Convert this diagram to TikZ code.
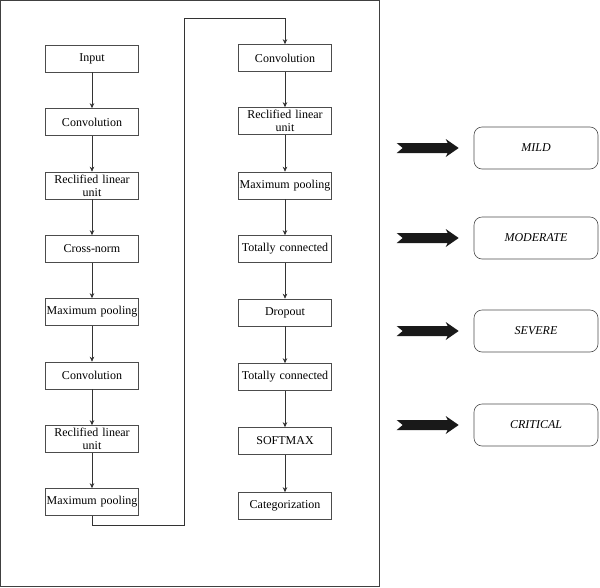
\documentclass[tikz,border=0pt]{standalone}
\usepackage{fontspec}
\setmainfont{Liberation Serif}
\usetikzlibrary{arrows.meta}
\tikzset{
  layer/.style={draw=black!70, line width=0.6pt, minimum width=93pt, minimum height=27pt,
    text width=91pt, align=center, inner sep=1pt, font=\fontsize{12}{13}\selectfont},
  grade/.style={draw=black!70, line width=0.6pt, rounded corners=8pt, minimum width=124pt,
    minimum height=42pt, font=\fontsize{12}{14}\selectfont\itshape},
  flow/.style={draw=black!80, line width=0.6pt, -{Stealth[length=5pt,width=4.5pt]}}
}
\begin{document}
\begin{tikzpicture}[x=1pt, y=-1pt]
  \useasboundingbox (0,0) rectangle (600,587);
  \draw[black!75, line width=0.8pt] (0.5,0.5) rectangle (379,586);

  \node[layer] (lin)    at (92, 58.5) {Input};
  \node[layer] (lconv1) at (92,122) {Convolution};
  \node[layer] (lrelu1) at (92,185.5) {Reclified linear\\unit};
  \node[layer] (lnorm)  at (92,249) {Cross-norm};
  \node[layer] (lpool1) at (92,312) {Maximum pooling};
  \node[layer] (lconv2) at (92,375.5) {Convolution};
  \node[layer] (lrelu2) at (92,439) {Reclified linear\\unit};
  \node[layer] (lpool2) at (92,502) {Maximum pooling};

  \node[layer] (rconv)  at (285, 58) {Convolution};
  \node[layer] (rrelu)  at (285,121) {Reclified linear\\unit};
  \node[layer] (rpool)  at (285,185.5) {Maximum pooling};
  \node[layer] (rfc1)   at (285,249) {Totally connected};
  \node[layer] (rdrop)  at (285,312.5) {Dropout};
  \node[layer] (rfc2)   at (285,377) {Totally connected};
  \node[layer] (rsoft)  at (285,441) {SOFTMAX};
  \node[layer] (rcat)   at (285,506) {Categorization};

  \draw[flow] (lin) -- (lconv1);
  \draw[flow] (lconv1) -- (lrelu1);
  \draw[flow] (lrelu1) -- (lnorm);
  \draw[flow] (lnorm) -- (lpool1);
  \draw[flow] (lpool1) -- (lconv2);
  \draw[flow] (lconv2) -- (lrelu2);
  \draw[flow] (lrelu2) -- (lpool2);

  \coordinate (low) at (184,525);
  \coordinate (high) at (184,18);
  \draw[flow] (lpool2.south) |- (low) -- (high) -| (rconv.north);

  \draw[flow] (rconv) -- (rrelu);
  \draw[flow] (rrelu) -- (rpool);
  \draw[flow] (rpool) -- (rfc1);
  \draw[flow] (rfc1) -- (rdrop);
  \draw[flow] (rdrop) -- (rfc2);
  \draw[flow] (rfc2) -- (rsoft);
  \draw[flow] (rsoft) -- (rcat);

  \node[grade] (mild)     at (536,148) {MILD};
  \node[grade] (moderate) at (536,238) {MODERATE};
  \node[grade] (severe)   at (536,331) {SEVERE};
  \node[grade] (critical) at (536,425) {CRITICAL};

  \foreach \g in {mild,moderate,severe,critical}{
    \coordinate (tip) at ([xshift=-15pt]\g.west);
    \fill[black!90] (tip) -- ++(-13,-9) -- ++(2,4) -- ++(-51,0) -- ++(6,5)
      -- ++(-6,5) -- ++(51,0) -- ++(-2,4) -- cycle;
  }
\end{tikzpicture}
\end{document}
